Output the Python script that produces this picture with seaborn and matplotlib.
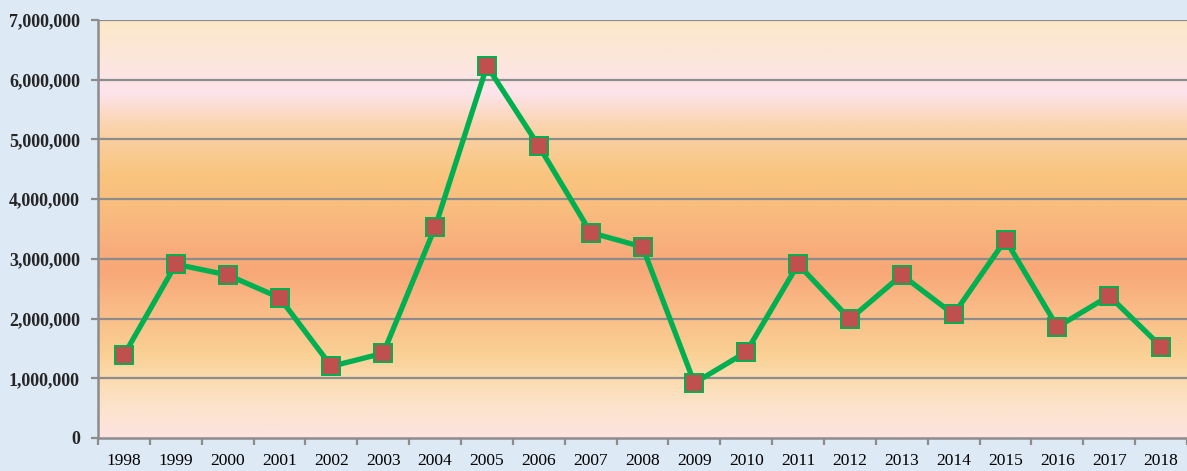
import numpy as np
import pandas as pd
import matplotlib
matplotlib.use("Agg")
import matplotlib.pyplot as plt
import seaborn as sns
from matplotlib.colors import LinearSegmentedColormap
from matplotlib.ticker import FuncFormatter, FixedLocator

years = ["1998", "1999", "2000", "2001", "2002", "2003", "2004", "2005", "2006", "2007",
         "2008", "2009", "2010", "2011", "2012", "2013", "2014", "2015", "2016", "2017", "2018"]
values = [1390000, 2910000, 2730000, 2350000, 1200000, 1420000, 3530000, 6230000, 4890000, 3440000,
          3200000, 920000, 1440000, 2910000, 1990000, 2730000, 2070000, 3320000, 1860000, 2380000, 1530000]
y_ticks = [0, 1000000, 2000000, 3000000, 4000000, 5000000, 6000000, 7000000]

sns.set_theme(style="white")
plt.rcParams['font.family'] = ['Liberation Serif', 'DejaVu Serif']

df = pd.DataFrame({"year": years, "value": values})

fig = plt.figure(figsize=(11.87, 4.71), dpi=100)
fig.patch.set_facecolor("#DDE9F5")
ax = fig.add_axes([0.0826, 0.0701, 0.9174, 0.8874])

# gradient background (value -> colour)
stops = [(0.0, "#FDE3E0"), (0.5 / 7, "#FCE3CC"), (1.0 / 7, "#FBDBAE"), (1.4 / 7, "#FAD094"),
         (2.2 / 7, "#F9BA86"), (2.8 / 7, "#F8A777"), (3.2 / 7, "#F8AE7C"), (3.8 / 7, "#F9BC7E"),
         (4.4 / 7, "#F9C47D"), (5.2 / 7, "#FAD3AA"), (5.8 / 7, "#FDE4EC"), (6.3 / 7, "#FCE6DC"),
         (1.0, "#FBE9C9")]
cmap = LinearSegmentedColormap.from_list("bg", stops)
grad = np.linspace(0, 1, 512).reshape(-1, 1)
ax.imshow(grad, aspect="auto", cmap=cmap, origin="lower",
          extent=[-0.5, len(years) - 0.5, 0, 7000000], zorder=0)

for t in y_ticks[1:]:
    ax.axhline(t, color="#8C8C8C", lw=1.6, zorder=1)

sns.lineplot(data=df, x="year", y="value", ax=ax, color="#00B050", lw=3.8,
             marker="s", markersize=13.5, markerfacecolor="#C0504D",
             markeredgecolor="#00B050", markeredgewidth=1.4, zorder=3)

ax.set_xlim(-0.5, len(years) - 0.5)
ax.set_ylim(0, 7000000)
ax.set_xlabel("")
ax.set_ylabel("")

ax.set_yticks(y_ticks)
ax.yaxis.set_major_formatter(FuncFormatter(lambda v, p: f"{int(v):,}"))
ax.set_xticks(range(len(years)))
ax.set_xticklabels(years)
ax.xaxis.set_minor_locator(FixedLocator(np.arange(-0.5, len(years), 1.0)))

ax.tick_params(axis="x", which="major", length=0, pad=11, labelsize=12.5, colors="black")
ax.tick_params(axis="x", which="minor", length=5, width=1.6, color="#8C8C8C", bottom=True)
ax.tick_params(axis="y", which="major", length=5, width=1.6, color="#8C8C8C", left=True,
               pad=8, labelsize=13)
for lab in ax.get_yticklabels():
    lab.set_fontweight("bold")

for s in ["top", "right"]:
    ax.spines[s].set_visible(False)
for s in ["left", "bottom"]:
    ax.spines[s].set_color("#8C8C8C")
    ax.spines[s].set_linewidth(1.8)

fig.savefig("out.png", dpi=100, facecolor=fig.get_facecolor())
